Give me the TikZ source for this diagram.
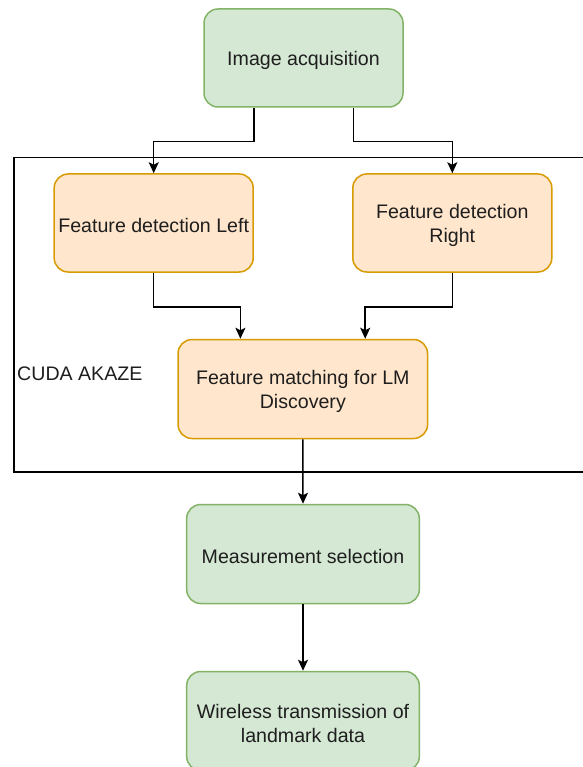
\documentclass[tikz,border=0pt]{standalone}
\usepackage{fontspec}
\setmainfont{Liberation Sans}
\usetikzlibrary{arrows.meta,calc}
\definecolor{greenfill}{HTML}{D5E8D4}
\definecolor{greenline}{HTML}{82B366}
\definecolor{orangefill}{HTML}{FFE6CC}
\definecolor{orangeline}{HTML}{D79B00}
\definecolor{txt}{HTML}{1E1E1E}
\begin{document}
\begin{tikzpicture}[x=1pt,y=-1pt,
  lbl/.style={align=center, inner sep=0pt, text=txt,
    font=\fontsize{19.6}{23.8}\selectfont},
  box/.style={rounded corners=14pt, line width=1.5pt, inner sep=0pt},
  greenbox/.style={box, fill=greenfill, draw=greenline},
  orangebox/.style={box, fill=orangefill, draw=orangeline},
  boxtext/.style={label={[lbl, yshift=-2.5pt]center:#1}},
  link/.style={line width=1.5pt, -{Stealth[length=11pt,width=10pt,inset=2.5pt]}}]
  \useasboundingbox (0,0) rectangle (582,767);

  % CUDA AKAZE container (runs off the right edge)
  \node[draw=black, line width=1.5pt, minimum width=590pt, minimum height=314pt,
        inner sep=0pt, anchor=north west] (cuda) at (13,157) {};
  \node[lbl, anchor=west] (cudalabel) at (17,374) {CUDA AKAZE};

  % processing steps
  \node[greenbox, minimum width=199pt, minimum height=98pt,
        boxtext={Image acquisition}] (acq) at (303.5,58) {};
  \node[orangebox, minimum width=199pt, minimum height=98pt,
        boxtext={Feature detection Left}] (left) at (153.7,223) {};
  \node[orangebox, minimum width=199pt, minimum height=98pt,
        boxtext={Feature detection\\Right}] (right) at (452.3,223) {};
  \node[orangebox, minimum width=249.5pt, minimum height=99pt,
        boxtext={Feature matching for LM\\Discovery}] (match) at (302.8,389) {};
  \node[greenbox, minimum width=232.6pt, minimum height=99pt,
        boxtext={Measurement selection}] (meas) at (303,554) {};
  \node[greenbox, minimum width=232.6pt, minimum height=99pt,
        boxtext={Wireless transmission of\\landmark data}] (wire) at (303,721) {};

  % connectors
  \draw[link] ([xshift=-49.75pt]acq.south) -- ++(0,34) -| (left.north);
  \draw[link] ([xshift=49.75pt]acq.south) -- ++(0,34) -| (right.north);
  \draw[link] (left.south) -- ++(0,34) -| ([xshift=-62.4pt]match.north);
  \draw[link] (right.south) -- ++(0,34) -| ([xshift=62.4pt]match.north);
  \draw[link] (match.south) -- (meas.north);
  \draw[link] (meas.south) -- (wire.north);
\end{tikzpicture}
\end{document}
